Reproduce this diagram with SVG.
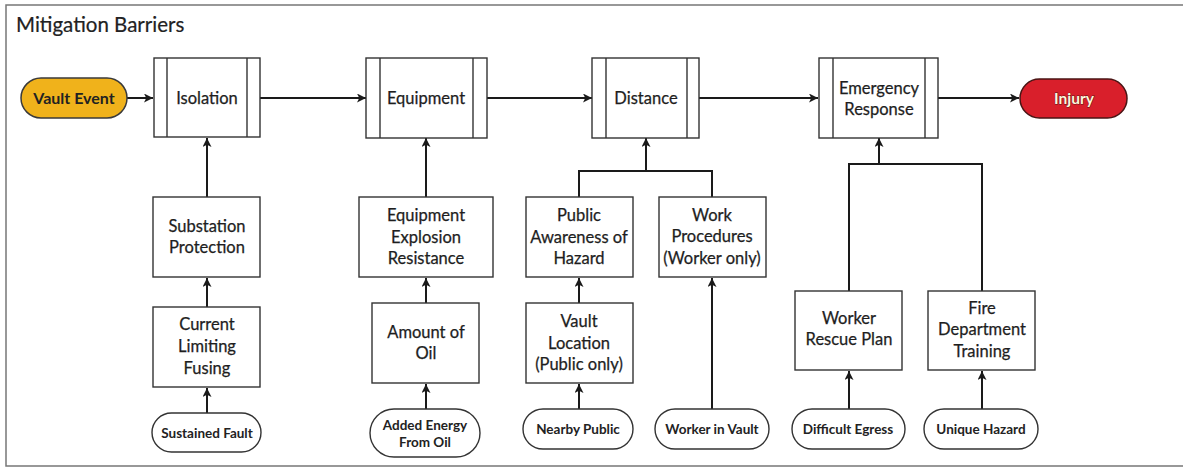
<svg xmlns="http://www.w3.org/2000/svg" width="1183" height="471" viewBox="0 0 1183 471">
<defs>
<marker id="ah" viewBox="0 0 10 10" refX="10" refY="5" markerWidth="9" markerHeight="9" markerUnits="userSpaceOnUse" orient="auto">
<path d="M0,0 L10,5 L0,10 L2.5,5 z" fill="#1a1a1a"/>
</marker>
<style>
.box{fill:#ffffff;stroke:#333;stroke-width:1.4}
.pill{fill:#ffffff;stroke:#333;stroke-width:1.4}
.lbl{font-family:Lato,"Liberation Sans",sans-serif;font-size:16.5px;fill:#1e1e1e;text-anchor:middle;stroke:#1e1e1e;stroke-width:0.25}
.sm{font-family:Lato,"Liberation Sans",sans-serif;font-size:13.5px;font-weight:bold;fill:#222;text-anchor:middle}
.con{fill:none;stroke:#1a1a1a;stroke-width:2}
.arr{fill:none;stroke:#1a1a1a;stroke-width:2;marker-end:url(#ah)}
</style>
</defs>
<rect x="0" y="0" width="1183" height="471" fill="#ffffff"/>
<path d="M1183,5 H6 V466 H1183" fill="none" stroke="#777" stroke-width="1.5"/>
<text x="16" y="32" font-family="Lato,'Liberation Sans',sans-serif" font-size="20.5" fill="#222" stroke="#222" stroke-width="0.2">Mitigation Barriers</text>

<g id="connectors">
<line class="arr" x1="127" y1="98" x2="153" y2="98"/>
<line class="arr" x1="260" y1="98" x2="366" y2="98"/>
<line class="arr" x1="487" y1="98" x2="592" y2="98"/>
<line class="arr" x1="699" y1="98" x2="818" y2="98"/>
<line class="arr" x1="938" y1="98" x2="1019" y2="98"/>
<line class="arr" x1="207" y1="197" x2="207" y2="138"/>
<line class="arr" x1="207" y1="307" x2="207" y2="278"/>
<line class="arr" x1="207" y1="413" x2="207" y2="388"/>
<line class="arr" x1="426" y1="197" x2="426" y2="138"/>
<line class="arr" x1="426" y1="303" x2="426" y2="278"/>
<line class="arr" x1="426" y1="409" x2="426" y2="384"/>
<path class="con" d="M579,197 V171 H712 V197"/>
<line class="arr" x1="646" y1="171" x2="646" y2="138"/>
<line class="arr" x1="579" y1="303" x2="579" y2="278"/>
<line class="arr" x1="579" y1="409" x2="579" y2="384"/>
<line class="arr" x1="712" y1="409" x2="712" y2="278"/>
<path class="con" d="M849,291 V164 H982 V291"/>
<line class="arr" x1="879" y1="164" x2="879" y2="138"/>
<line class="arr" x1="849" y1="409" x2="849" y2="371"/>
<line class="arr" x1="982" y1="409" x2="982" y2="371"/>
</g>

<g id="vault-event">
<rect x="21" y="78" width="106" height="40" rx="20" fill="#F0B21B" stroke="#3a3a3a" stroke-width="1.5"/>
<text class="sm" x="74" y="103.5" style="font-size:16px">Vault Event</text>
</g>
<g id="isolation">
<rect class="box" x="154" y="58" width="106" height="79"/>
<line x1="167" y1="58" x2="167" y2="137" stroke="#333" stroke-width="1.4"/>
<line x1="247" y1="58" x2="247" y2="137" stroke="#333" stroke-width="1.4"/>
<text class="lbl" x="207" y="104">Isolation</text>
</g>
<g id="equipment">
<rect class="box" x="366" y="58" width="121" height="80"/>
<line x1="380" y1="58" x2="380" y2="138" stroke="#333" stroke-width="1.4"/>
<line x1="473" y1="58" x2="473" y2="138" stroke="#333" stroke-width="1.4"/>
<text class="lbl" x="426" y="104">Equipment</text>
</g>
<g id="distance">
<rect class="box" x="592" y="58" width="107" height="80"/>
<line x1="606" y1="58" x2="606" y2="138" stroke="#333" stroke-width="1.4"/>
<line x1="687" y1="58" x2="687" y2="138" stroke="#333" stroke-width="1.4"/>
<text class="lbl" x="646" y="104">Distance</text>
</g>
<g id="emergency-response">
<rect class="box" x="819" y="58" width="119" height="80"/>
<line x1="833" y1="58" x2="833" y2="138" stroke="#333" stroke-width="1.4"/>
<line x1="925" y1="58" x2="925" y2="138" stroke="#333" stroke-width="1.4"/>
<text class="lbl" x="879" y="94">Emergency</text>
<text class="lbl" x="879" y="115">Response</text>
</g>
<g id="injury">
<rect x="1020" y="79" width="107" height="39" rx="19.5" fill="#D91F2B" stroke="#4a1515" stroke-width="1.5"/>
<text x="1074" y="104" font-family="Lato,'Liberation Sans',sans-serif" font-size="15.5" font-weight="bold" text-anchor="middle" fill="#fff6dc" stroke="#5a1818" stroke-width="0.9" paint-order="stroke">Injury</text>
</g>

<g id="substation-protection">
<rect class="box" x="153" y="197" width="107" height="80"/>
<text class="lbl" x="207" y="232">Substation</text>
<text class="lbl" x="207" y="253">Protection</text>
</g>
<g id="current-limiting-fusing">
<rect class="box" x="153" y="307" width="107" height="80"/>
<text class="lbl" x="207" y="330">Current</text>
<text class="lbl" x="207" y="352">Limiting</text>
<text class="lbl" x="207" y="374">Fusing</text>
</g>
<g id="sustained-fault">
<rect class="pill" x="152" y="413" width="109" height="39" rx="19.5"/>
<text class="sm" x="207" y="437.5">Sustained Fault</text>
</g>

<g id="equipment-explosion-resistance">
<rect class="box" x="359" y="197" width="134" height="80"/>
<text class="lbl" x="426" y="221">Equipment</text>
<text class="lbl" x="426" y="243">Explosion</text>
<text class="lbl" x="426" y="264">Resistance</text>
</g>
<g id="amount-of-oil">
<rect class="box" x="372" y="303" width="107" height="80"/>
<text class="lbl" x="426" y="338">Amount of</text>
<text class="lbl" x="426" y="359">Oil</text>
</g>
<g id="added-energy">
<rect class="pill" x="370" y="409" width="110" height="48" rx="24"/>
<text class="sm" x="425" y="429.5">Added Energy</text>
<text class="sm" x="425" y="447">From Oil</text>
</g>

<g id="public-awareness">
<rect class="box" x="526" y="197" width="107" height="80"/>
<text class="lbl" x="579" y="221">Public</text>
<text class="lbl" x="579" y="243">Awareness of</text>
<text class="lbl" x="579" y="264">Hazard</text>
</g>
<g id="vault-location">
<rect class="box" x="526" y="303" width="107" height="80"/>
<text class="lbl" x="579" y="327">Vault</text>
<text class="lbl" x="579" y="349">Location</text>
<text class="lbl" x="579" y="370">(Public only)</text>
</g>
<g id="nearby-public">
<rect class="pill" x="523" y="409" width="110" height="40" rx="20"/>
<text class="sm" x="578" y="434">Nearby Public</text>
</g>
<g id="work-procedures">
<rect class="box" x="659" y="197" width="107" height="80"/>
<text class="lbl" x="712" y="221">Work</text>
<text class="lbl" x="712" y="242">Procedures</text>
<text class="lbl" x="712" y="264">(Worker only)</text>
</g>
<g id="worker-in-vault">
<rect class="pill" x="655" y="409" width="114" height="40" rx="20"/>
<text class="sm" x="712" y="434">Worker in Vault</text>
</g>

<g id="worker-rescue-plan">
<rect class="box" x="795" y="291" width="107" height="79"/>
<text class="lbl" x="849" y="324">Worker</text>
<text class="lbl" x="849" y="345">Rescue Plan</text>
</g>
<g id="fire-department-training">
<rect class="box" x="928" y="291" width="107" height="79"/>
<text class="lbl" x="982" y="314">Fire</text>
<text class="lbl" x="982" y="335">Department</text>
<text class="lbl" x="982" y="357">Training</text>
</g>
<g id="difficult-egress">
<rect class="pill" x="792" y="409" width="113" height="40" rx="20"/>
<text class="sm" x="848" y="434">Difficult Egress</text>
</g>
<g id="unique-hazard">
<rect class="pill" x="924" y="409" width="114" height="40" rx="20"/>
<text class="sm" x="981" y="434">Unique Hazard</text>
</g>
</svg>
